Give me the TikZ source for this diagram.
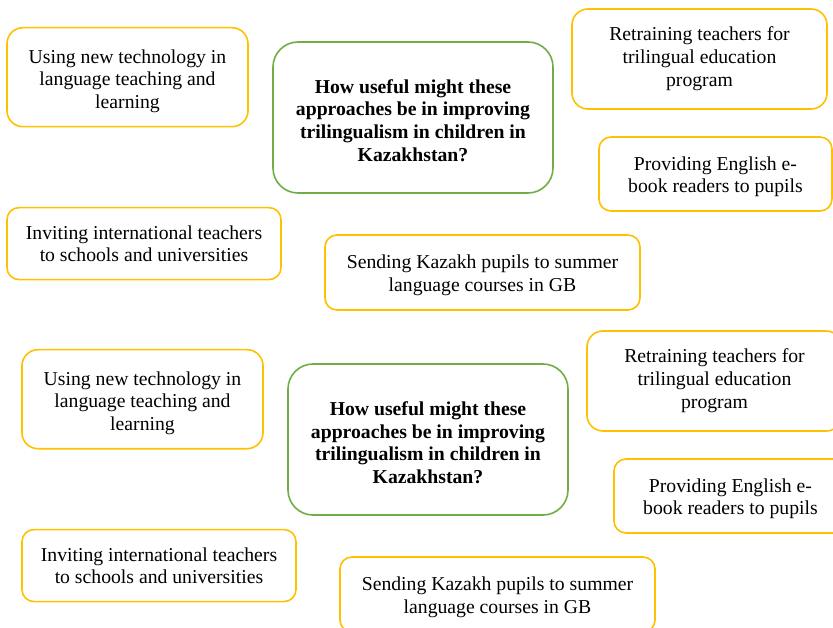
\documentclass[tikz,border=0pt]{standalone}
\usepackage{fontspec}
\setmainfont{Liberation Serif}
\definecolor{boxyellow}{HTML}{FFC000}
\definecolor{boxgreen}{HTML}{70AD47}
\newcommand{\topgap}[1]{\rule{0pt}{#1pt}}
\newcommand{\botgap}{\rule[-5pt]{0pt}{5pt}}
\tikzset{
  anybox/.style={inner sep=0pt, align=center, line width=1.6pt},
  optbox/.style={anybox, draw=boxyellow, rounded corners=#1,
    font=\fontsize{19.7}{22.6}\selectfont},
  qbox/.style={anybox, draw=boxgreen, rounded corners=25pt,
    font=\bfseries\fontsize{19.7}{22.6}\selectfont},
}
\newcommand{\drawcopy}[3]{%
\begin{scope}[shift={(#2,#3)}]
  \node[optbox=16, minimum width=241pt, minimum height=99pt] (#1tech) at (127.5,77.2)
    {\topgap{22.3}Using new technology in\\language teaching and\\learning\botgap};
  \node[optbox=12, minimum width=274pt, minimum height=72pt] (#1invite) at (144,243.6)
    {\topgap{18.6}Inviting international teachers\\to schools and universities\botgap};
  \node[qbox, minimum width=280pt, minimum height=151pt] (#1question) at (413,117.5)
    {\topgap{24.6}How useful might these\\approaches be in improving\\trilingualism in children in\\Kazakhstan?\botgap};
  \node[optbox=16, minimum width=255pt, minimum height=100pt] (#1retrain) at (699.5,59)
    {\topgap{12.3}Retraining teachers for\\trilingual education\\program\botgap};
  \node[optbox=12, minimum width=233pt, minimum height=74pt] (#1ebook) at (715.5,174)
    {\topgap{20.3}Providing English e-\\book readers to pupils\botgap};
  \node[optbox=12, minimum width=315pt, minimum height=75pt] (#1summer) at (482.5,272.5)
    {\topgap{20.3}Sending Kazakh pupils to summer\\language courses in GB\botgap};
\end{scope}}
\begin{document}
\begin{tikzpicture}[x=1pt, y=-1pt]
  \useasboundingbox (0,0) rectangle (833,628);
  \drawcopy{up}{0}{0}
  \drawcopy{dn}{15}{322}
\end{tikzpicture}
\end{document}
